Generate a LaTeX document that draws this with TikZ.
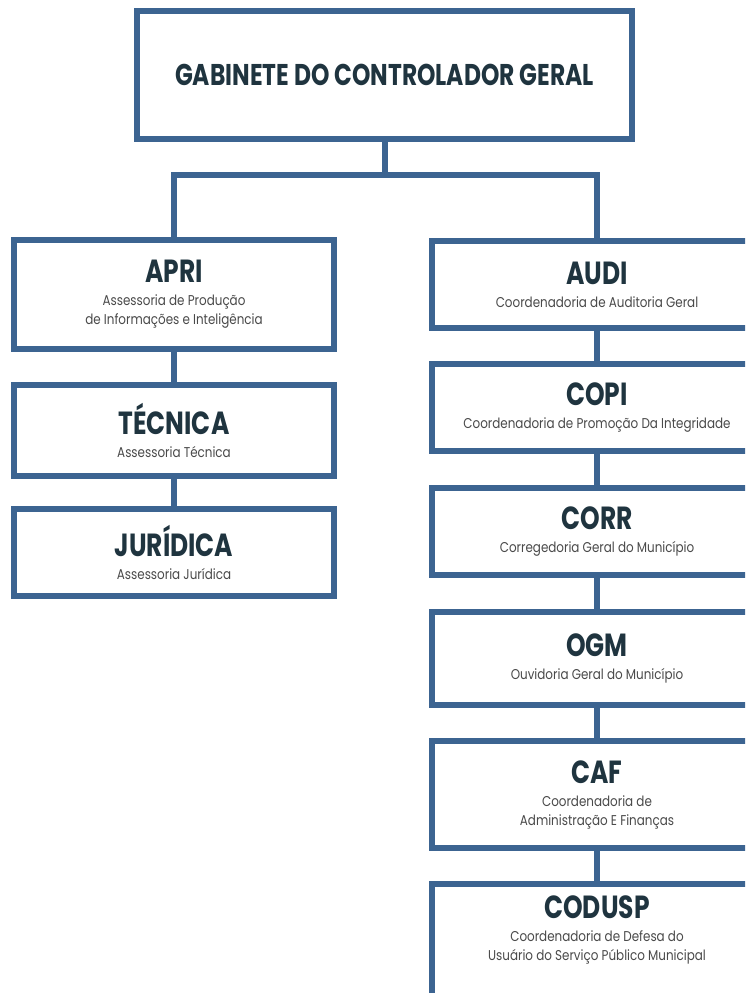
\documentclass[tikz,border=0pt]{standalone}
\usepackage{fontspec}
\usetikzlibrary{positioning}
\newfontfamily\headfont[FakeStretch=0.78]{Poppins}
\newfontfamily\bodyfont[FakeStretch=0.84]{Poppins}
\definecolor{orgblue}{HTML}{3C6491}
\definecolor{orgink}{HTML}{1F343F}
\definecolor{orggrey}{HTML}{4A4A4A}
\newcommand{\unitname}[1]{{\headfont\bfseries\fontsize{32}{32}\selectfont\color{orgink}#1}}
\newcommand{\unitsub}[1]{{\bodyfont\fontsize{14.2}{19}\selectfont\color{orggrey}#1}}

\begin{document}
\begin{tikzpicture}[
		x=1pt, y=-1pt,
		every node/.style={rectangle, draw=orgblue, line width=6pt, fill=white, align=center, inner sep=0pt,
			font=\bodyfont\fontsize{14.2}{19}\selectfont},
		leftunit/.style={minimum width=320pt},
		rightunit/.style={minimum width=330pt},
		link/.style={draw=orgblue, line width=6pt}
	]
  \useasboundingbox (0,0) rectangle (745,993);
  \clip (0,0) rectangle (745,993);
  \node (gab) [minimum width=495pt, minimum height=128pt] at (384.5, 75)
    {{\headfont\bfseries\fontsize{30}{30}\selectfont\color{orgink}GABINETE DO CONTROLADOR GERAL}};
  % left column
  \node (apri) [leftunit, minimum height=109pt] at (174, 294.5)
    {\unitname{APRI}\\[4pt]\unitsub{Assessoria de Produção}\\\unitsub{de Informações e Inteligência}};
  \node (tecnica) [leftunit, minimum height=91pt] at (174, 430.5)
    {\unitname{TÉCNICA}\\[4pt]\unitsub{Assessoria Técnica}};
  \node (juridica) [leftunit, minimum height=87pt] at (174, 552.5)
    {\unitname{JURÍDICA}\\[4pt]\unitsub{Assessoria Jurídica}};
  % right column
  \node (audi) [rightunit, minimum height=87pt] at (597, 284.5)
    {\unitname{AUDI}\\[4pt]\unitsub{Coordenadoria de Auditoria Geral}};
  \node (copi) [rightunit, minimum height=87pt] at (597, 407.5)
    {\unitname{COPI}\\[4pt]\unitsub{Coordenadoria de Promoção Da Integridade}};
  \node (corr) [rightunit, minimum height=87pt] at (597, 531.5)
    {\unitname{CORR}\\[4pt]\unitsub{Corregedoria Geral do Município}};
  \node (ogm) [rightunit, minimum height=93pt] at (597, 658.5)
    {\unitname{OGM}\\[4pt]\unitsub{Ouvidoria Geral do Município}};
  \node (caf) [rightunit, minimum height=107pt] at (597, 794.5)
    {\unitname{CAF}\\[4pt]\unitsub{Coordenadoria de}\\\unitsub{Administração E Finanças}};
  \node (codusp) [rightunit, minimum height=116pt] at (597, 942)
    {\unitname{CODUSP}\\[4pt]\unitsub{Coordenadoria de Defesa do}\\\unitsub{Usuário do Serviço Público Municipal}\rule[-28pt]{0pt}{28pt}};
  \coordinate (fork) at (gab.south |- {(0,175)});
  \draw [link] (gab) -- (fork);
  \draw [link] (apri.north) |- (fork) -| (audi.north);
  \draw [link] (apri) -- (tecnica);
  \draw [link] (tecnica) -- (juridica);
  \draw [link] (audi) -- (copi);
  \draw [link] (copi) -- (corr);
  \draw [link] (corr) -- (ogm);
  \draw [link] (ogm) -- (caf);
  \draw [link] (caf) -- (codusp);
\end{tikzpicture}
\end{document}
